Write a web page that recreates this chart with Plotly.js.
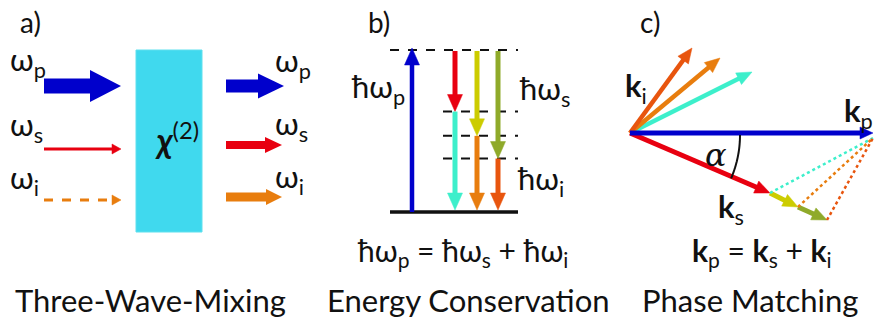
<!DOCTYPE html>
<html>
<head>
<meta charset="utf-8">
<script src="https://cdn.plot.ly/plotly-3.0.1.min.js"></script>
<style>html,body{margin:0;padding:0;background:#fff;}#chart{width:875px;height:321px;}</style>
</head>
<body>
<div id="chart"></div>
<script>
// ---------- content ----------
const panelLabels = ['a)', 'b)', 'c)'];
const captions = ['Three-Wave-Mixing', 'Energy Conservation', 'Phase Matching'];
const equations = ['ħω<sub>p</sub> = ħω<sub>s</sub> + ħω<sub>i</sub>',
                   '<b>k</b><sub>p</sub> = <b>k</b><sub>s</sub> + <b>k</b><sub>i</sub>'];
const waveNames = ['p', 's', 'i'];
const waveColors = ['#0000CC', '#E80010', '#E87D0E'];
const crystalLabel = '<b><i>χ</i></b><sup>(2)</sup>';

// energy diagram: fraction of pump photon energy carried by the signal / idler (three cases)
const signalFraction = [0.38, 0.53, 0.67];
const idlerFraction  = [0.62, 0.47, 0.33];
const signalColors = ['#E80010', '#CCCC00', '#8FAA2A'];
const idlerColors  = ['#3DEFCB', '#E87D0E', '#E8550E'];

// phase matching: wave vectors (screen units, y pointing down) for the three cases
const kPump   = [243, 0];
const kSignal = [[140, 60], [168, 74], [197, 87]];
const kIdler  = [[122, -61], [90, -75], [62, -85]];

// ---------- drawing ----------
const FONT = 'Lato, "Noto Sans", "DejaVu Sans", sans-serif';
const shapes = [];
const annotations = [];

function line(x0, y0, x1, y1, color, width, dash) {
  shapes.push({type: 'line', xref: 'x', yref: 'y', x0, y0, x1, y1,
               line: {color, width, dash: dash || 'solid'}});
}
function arrow(x0, y0, x1, y1, color, width, hl, hw, dash) {
  const dx = x1 - x0, dy = y1 - y0, L = Math.hypot(dx, dy);
  const ux = dx / L, uy = dy / L, px = -uy, py = ux;
  const bx = x1 - ux * hl, by = y1 - uy * hl;
  line(x0, y0, bx + ux, by + uy, color, width, dash);
  shapes.push({type: 'path', xref: 'x', yref: 'y',
    path: `M ${x1} ${y1} L ${bx + px * hw} ${by + py * hw} L ${bx - px * hw} ${by - py * hw} Z`,
    fillcolor: color, line: {color, width: 0.5}});
}
function blockArrow(x0, y, x1, color, bodyH, hl, hw) {
  shapes.push({type: 'rect', xref: 'x', yref: 'y', x0, x1: x1 - hl + 1, y0: y - bodyH / 2, y1: y + bodyH / 2,
               fillcolor: color, line: {width: 0}});
  shapes.push({type: 'path', xref: 'x', yref: 'y',
    path: `M ${x1} ${y} L ${x1 - hl} ${y - hw} L ${x1 - hl} ${y + hw} Z`,
    fillcolor: color, line: {width: 0}});
}
function text(t, x, y, size, xanchor, extra) {
  annotations.push(Object.assign({text: t, x, y, xref: 'x', yref: 'y', showarrow: false,
    xanchor: xanchor || 'left', yanchor: 'middle',
    font: {size, color: '#111111', family: FONT}}, extra || {}));
}

// panel labels
[18, 366, 638].forEach((x, i) => text(panelLabels[i], x, 22, 28));
// captions & equations
[150, 468, 750].forEach((x, i) => text(captions[i], x, 300, 31, 'center'));
text(equations[0], 462, 252, 30, 'center');
text(equations[1], 762, 252, 30, 'center');

// ---- panel a ----
shapes.push({type: 'rect', xref: 'x', yref: 'y', x0: 136, x1: 202, y0: 50, y1: 232,
             fillcolor: '#40D9EE', line: {color: '#5FE0EE', width: 1}});
text(crystalLabel, 153, 138, 34);
const aRowsIn = [86, 149, 200], aRowsOut = [86, 145, 197];
const aLabIn = [61, 126, 179], aLabOut = [62, 125, 178];
waveNames.forEach((n, i) => {
  text('ω<sub>' + n + '</sub>', 8, aLabIn[i], 31);
  text('ω<sub>' + n + '</sub>', 273, aLabOut[i], 31);
});
blockArrow(44, aRowsIn[0], 121, waveColors[0], 15, 31, 16);
arrow(44, aRowsIn[1], 121, aRowsIn[1], waveColors[1], 3, 9, 5);
arrow(44, aRowsIn[2], 121, aRowsIn[2], waveColors[2], 3, 9, 5, 'dash');
blockArrow(226, aRowsOut[0], 284, waveColors[0], 13, 26, 12.5);
blockArrow(226, aRowsOut[1], 282, waveColors[1], 8, 17, 8);
blockArrow(226, aRowsOut[2], 282, waveColors[2], 9, 16, 8);

// ---- panel b ----
const yTop = 50, yGround = 212, span = yGround - yTop;
line(390, yTop, 518, yTop, '#111', 2, 'dash');
line(390, yGround, 518, yGround, '#111', 3.5);
signalFraction.forEach(f => line(443, yTop + f * span, 518, yTop + f * span, '#111', 2, 'dash'));
arrow(412, yGround, 412, yTop - 2, waveColors[0], 4.5, 17, 7.5);
const bx = [455, 477, 498];
signalFraction.forEach((f, i) => {
  const yMid = yTop + f * span;
  arrow(bx[i], yTop + 1, bx[i], yMid, signalColors[i], 5, 17, 7.5);
  arrow(bx[i], yMid, bx[i], yMid + idlerFraction[i] * span - 2, idlerColors[i], 5, 17, 7.5);
});
text('ħω<sub>p</sub>', 349, 88, 31);
text('ħω<sub>s</sub>', 517, 90, 31);
text('ħω<sub>i</sub>', 515, 180, 31);

// ---- panel c ----
const ox = 630, oy = 133;
kIdler.forEach((k, i) => arrow(ox, oy, ox + k[0], oy + k[1], idlerColors[i], 4.5, 15, 6.5));
// signal vectors drawn as consecutive segments
let prev = [0, 0];
kSignal.forEach((k, i) => {
  arrow(ox + prev[0], oy + prev[1], ox + k[0], oy + k[1], signalColors[i], 5, 15, 6.5);
  prev = k;
});
arrow(ox, oy, ox + kPump[0], oy + kPump[1], waveColors[0], 5, 13, 6);
// closing dotted lines from signal tips to pump tip
kSignal.forEach((k, i) => line(ox + k[0], oy + k[1], ox + kPump[0], oy + kPump[1] + 5,
                               idlerColors[i], 2.5, 'dot'));
// angle arc
const R = 110, ang = Math.atan2(kSignal[0][1], kSignal[0][0]);
let p = '';
for (let j = 0; j <= 20; j++) {
  const a = ang * j / 20;
  p += (j ? ' L ' : 'M ') + (ox + R * Math.cos(a)).toFixed(2) + ' ' + (oy + 2 + R * Math.sin(a)).toFixed(2);
}
shapes.push({type: 'path', xref: 'x', yref: 'y', path: p, line: {color: '#111', width: 2}});
text('<b>k</b><sub>i</sub>', 623, 87, 31);
text('<b>k</b><sub>p</sub>', 842, 112, 31);
text('<b>k</b><sub>s</sub>', 716, 208, 31);
text('<i>α</i>', 703, 155, 32, 'left', {font: {size: 32, color: '#111', family: '"DejaVu Serif", serif'}});

const layout = {
  width: 875, height: 321,
  margin: {l: 0, r: 0, t: 0, b: 0},
  paper_bgcolor: '#ffffff', plot_bgcolor: '#ffffff',
  showlegend: false,
  xaxis: {range: [0, 875], visible: false, fixedrange: true},
  yaxis: {range: [321, 0], visible: false, fixedrange: true},
  shapes, annotations
};
Plotly.newPlot('chart', [{x: [0], y: [0], mode: 'markers', marker: {opacity: 0}, hoverinfo: 'skip'}],
               layout, {staticPlot: true, displayModeBar: false});
</script>
</body>
</html>
